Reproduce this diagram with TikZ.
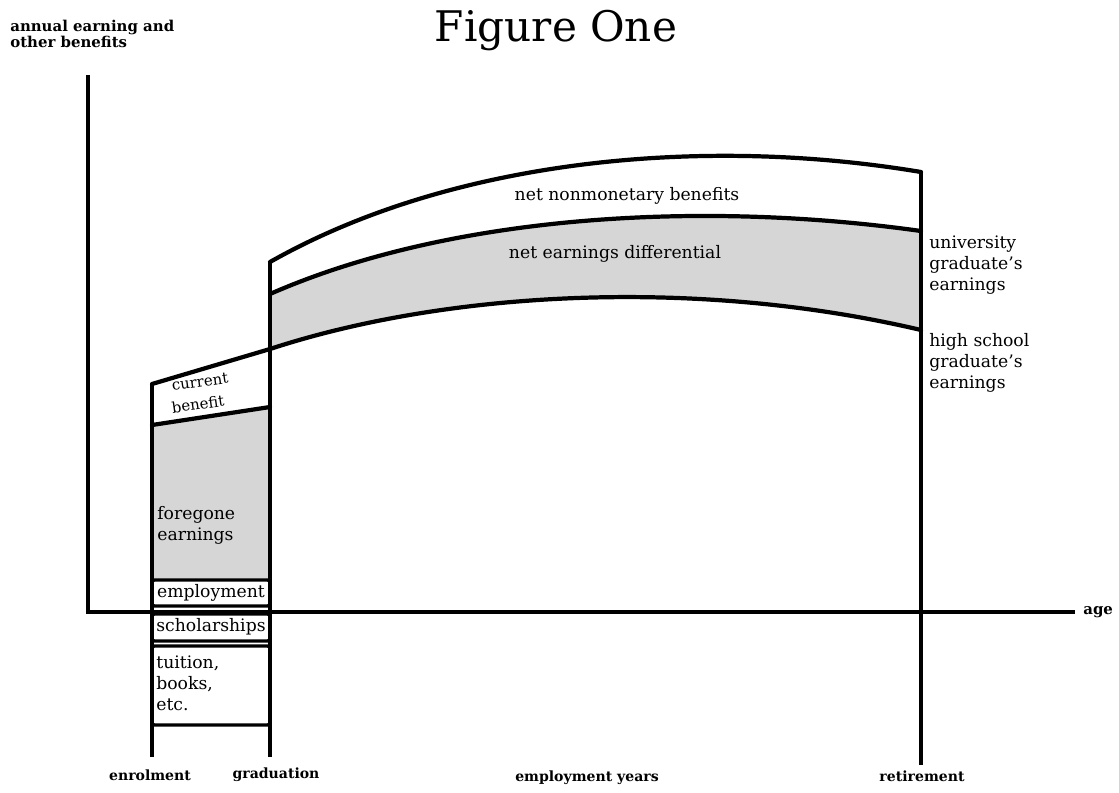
\documentclass[tikz,border=0pt]{standalone}
\usepackage{fontspec}
\setmainfont{DejaVu Serif}
\usetikzlibrary{positioning}

\begin{document}
\begin{tikzpicture}[x=0.02cm, y=-0.02cm,
	axis/.style={line width=2.6pt},
	curve/.style={line width=2.4pt, line join=round, line cap=round},
	cell/.style={line width=1.8pt, rounded corners=1.5pt},
	lbl/.style={font=\fontsize{9.8}{12}\selectfont, inner sep=0pt, align=left},
	axlbl/.style={font=\fontsize{8}{9}\selectfont\bfseries, inner sep=0pt, align=left}]
				\useasboundingbox (0,0) rectangle (1119,792);
				
				% Gray bands
				\fill[black!16] (270,294) .. controls (450,215) and (700,200) .. (921,231)
					-- (921,330) .. controls (700,278) and (450,290) .. (270,349) -- cycle;
				\fill[black!16] (152,425) -- (270,407) -- (270,580) -- (152,580) -- cycle;
				
				% Axes
				\coordinate (origin) at (88,612);
				\coordinate (ytop) at (88,75);
				\coordinate (xend) at (1075,612);
				\draw[axis] (ytop) -- (origin) -- (xend);
				
				% Time lines
				\coordinate (enrolTop) at (152,384);
				\coordinate (enrolBot) at (152,757);
				\coordinate (gradTop) at (270,262);
				\coordinate (gradBot) at (270,757);
				\coordinate (retTop) at (921,172);
				\coordinate (retBot) at (921,765);
				\draw[axis] (enrolTop) -- (enrolBot);
				\draw[axis] (gradTop) -- (gradBot);
				\draw[axis] (retTop) -- (retBot);
				
				% Earnings curves
				\draw[curve] (gradTop) .. controls (450,160) and (700,135) .. (retTop);
				\draw[curve] (270,294) .. controls (450,215) and (700,200) .. (921,231);
				\draw[curve] (enrolTop) -- (270,349);
				\draw[curve] (270,349) .. controls (450,290) and (700,278) .. (921,330);
				\draw[curve] (152,425) -- (270,407);
				
				% Cost cells
				\draw[cell] (152,580) rectangle (270,606);
				\draw[cell] (152,614) rectangle (270,641);
				\draw[cell] (152,646) rectangle (270,725);
				
				% Labels
				\node (title) [font=\fontsize{24}{28}\selectfont] at (556,31) {Figure One};
				\node (ylabel) [axlbl, font=\fontsize{8.5}{9}\selectfont\bfseries, anchor=north west] at (10,20) {annual earning and\\other benefits};
				\node (age) [axlbl, font=\fontsize{8.5}{9}\selectfont\bfseries, anchor=west] at (1083,612) {age};
				\node (nonmon) [lbl] at (627,196) {net nonmonetary benefits};
				\node (netdiff) [lbl] at (615,254) {net earnings differential};
				\node (univ) [lbl, anchor=north west] at (929,235) {university\\graduate's\\earnings};
				\node (hs) [lbl, anchor=north west] at (929,333) {high school\\graduate's\\earnings};
				\node (current) [lbl, font=\fontsize{8.5}{10}\selectfont, rotate=8] at (200,382) {current};
				\node (benefit) [lbl, font=\fontsize{8.5}{10}\selectfont, rotate=8] at (198,404) {benefit};
				\node (foregone) [lbl, anchor=west] at (157,525) {foregone\\earnings};
				\node (employ) [lbl] at (211,593) {employment};
				\node (schol) [lbl] at (211,627) {scholarships};
				\node (tuition) [lbl, anchor=north west] at (156,655) {tuition,\\books,\\etc.};
				\node (enrol) [axlbl] at (150,775) {enrolment};
				\node (grad) [axlbl] at (276,775) {graduation};
				\node (years) [axlbl] at (587,778) {employment years};
				\node (retire) [axlbl] at (922,776) {retirement};
			\end{tikzpicture}
\end{document}
